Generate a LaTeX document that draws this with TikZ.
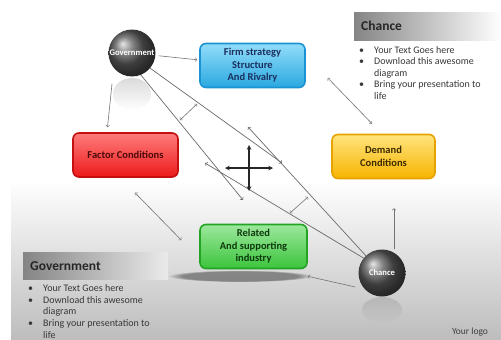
\documentclass[tikz,border=0pt]{standalone}
\usepackage{fontspec}
\setmainfont{Carlito}
\usetikzlibrary{fadings}

\definecolor{firmtop}{HTML}{92DDFA}
\definecolor{firmbot}{HTML}{2AA8E0}
\definecolor{firmline}{HTML}{1B92D2}
\definecolor{firmtext}{HTML}{1B2F5E}
\definecolor{factop}{HTML}{FF7C7C}
\definecolor{facbot}{HTML}{EC1A1A}
\definecolor{facline}{HTML}{C41010}
\definecolor{factext}{HTML}{4D0A0A}
\definecolor{demtop}{HTML}{FFE47E}
\definecolor{dembot}{HTML}{F6B400}
\definecolor{demline}{HTML}{E6A300}
\definecolor{demtext}{HTML}{3D2B00}
\definecolor{reltop}{HTML}{9CE89C}
\definecolor{relbot}{HTML}{3CC43C}
\definecolor{relline}{HTML}{24A424}
\definecolor{reltext}{HTML}{0E3A0E}

\newcommand{\bul}{\makebox[15pt][l]{\textbullet}}

\begin{document}
\begin{tikzpicture}[x=1pt,y=-1pt,
		box/.style={rounded corners=6pt,line width=1.6pt,minimum width=105pt,minimum height=44pt,inner sep=0pt,align=center,font=\fontsize{10.5}{12.5}\selectfont\bfseries},
		sphere/.style={circle,shading=ball,ball color=black!65,minimum size=47pt,inner sep=0pt,text=white,font=\fontsize{8.6}{9}\selectfont\bfseries},
		conn/.style={draw=black!55,line width=0.6pt},
		longline/.style={draw=black!58,line width=0.7pt},
		head/.style={anchor=west,inner sep=0pt,text=black!85,font=\fontsize{13.5}{15}\selectfont\bfseries},
		bullets/.style={anchor=north west,inner sep=0pt,align=left,text=black!78,font=\fontsize{10}{11.6}\selectfont}]
		\useasboundingbox (0,0) rectangle (501,340);
		\fill[white] (0,0) rectangle (501,340);
		\shade[top color=white,bottom color=black!26] (11,180) rectangle (501,340);

		\fill[black!40,opacity=0.35,path fading=south] (132,94) ellipse (19 and 16);
		\fill[black!45,opacity=0.35,path fading=south] (382,310) ellipse (20 and 13);
		\fill[black,opacity=0.38,path fading=circle with fuzzy edge 20 percent] (240,276) ellipse (72 and 6);

		\shade[left color=black!48,right color=white] (354,12) rectangle (501,40);
		\node[head] (chancehead) at (361,26) {Chance};
		\node[bullets] (chancetext) at (359,46) {\bul Your Text Goes here\\ \bul Download this awesome\\ \hspace*{15pt}diagram\\ \bul Bring your presentation to\\ \hspace*{15pt}life};

		\shade[left color=black!48,right color=black!8] (23,252) rectangle (168,279);
		\node[head] (govhead) at (30,266) {Government};
		\node[bullets] (govtext) at (28,284.5) {\bul Your Text Goes here\\ \bul Download this awesome\\ \hspace*{15pt}diagram\\ \bul Bring your presentation to\\ \hspace*{15pt}life};

		\node[text=black!75,font=\fontsize{9.5}{11}\selectfont] (logo) at (470,332) {Your logo};

		\node[box,draw=firmline,top color=firmtop,bottom color=firmbot,text=firmtext] (firm) at (252.5,65.5) {Firm strategy\\Structure\\And Rivalry};
		\node[box,draw=facline,top color=factop,bottom color=facbot,text=factext] (factor) at (125.5,155) {Factor Conditions};
		\node[box,draw=demline,top color=demtop,bottom color=dembot,text=demtext,minimum width=103pt] (demand) at (383.5,156.5) {Demand\\Conditions};
		\node[box,draw=relline,top color=reltop,bottom color=relbot,text=reltext,minimum width=107pt] (related) at (253.5,246.5) {Related\\And supporting\\industry};

		\node[sphere] (gov) at (132,53) {Government};
		\node[sphere] (chance) at (382,273) {Chance};

		\coordinate (govend1) at (282,163);
		\coordinate (govend2) at (243,200);
		\coordinate (chanceend1) at (248,127);
		\coordinate (chanceend2) at (205,163);
		\coordinate (govgapa) at (180,120);
		\coordinate (govgapb) at (197,104);
		\coordinate (chancegapa) at (290,213);
		\coordinate (chancegapb) at (308,197);
		\coordinate (mid) at (249,168);

		\draw[longline,->] (gov.-40) -- (govend1);
		\draw[longline,->] (gov.-68) -- (govend2);
		\draw[longline,->] (chance.133) -- (chanceend1);
		\draw[longline,->] (chance.141) -- (chanceend2);
		\draw[conn,<->] (govgapa) -- (govgapb);
		\draw[conn,<->] (chancegapa) -- (chancegapb);

		\draw[conn,->,shorten <=3pt,shorten >=2pt] (gov) -- (firm);
		\draw[conn,->] ([xshift=-20pt,yshift=-7pt]gov.south) -- ([xshift=-18pt,yshift=5pt]factor.north);
		\draw[conn,<->] ([xshift=22pt,yshift=-12.5pt]firm.east) -- ([xshift=-11.5pt,yshift=10pt]demand.north);
		\draw[conn,<->] ([xshift=9.5pt,yshift=-15pt]factor.south) -- ([xshift=-18pt,yshift=6.5pt]related.west);
		\draw[conn,->] ([xshift=12pt]chance.north) -- ([xshift=10.5pt,yshift=-29pt]demand.south);
		\draw[conn,->] ([xshift=-3pt,yshift=-14pt]chance.west) -- ([yshift=-7pt]related.south east);

		\draw[black!85,line width=1.1pt,<->,>=stealth] ([xshift=-24pt]mid) -- ([xshift=24pt]mid);
		\draw[black!85,line width=1.1pt,<->,>=stealth] ([yshift=23pt]mid) -- ([yshift=-23pt]mid);
	\end{tikzpicture}
\end{document}
